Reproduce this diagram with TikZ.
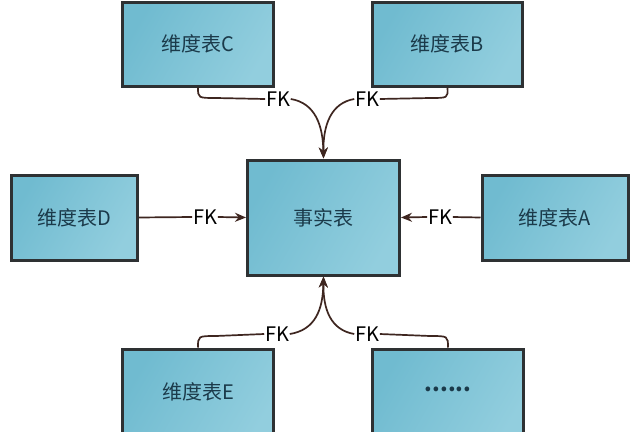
\documentclass[tikz,border=0pt]{standalone}
\usepackage{fontspec}
\setmainfont{Noto Sans CJK SC}
\usetikzlibrary{arrows.meta}
\definecolor{boxline}{HTML}{2E3133}
\definecolor{boxdark}{HTML}{70BBD0}
\definecolor{boxlight}{HTML}{92CEDE}
\definecolor{txt}{HTML}{1B3A4A}
\definecolor{arr}{HTML}{3E2620}
\tikzset{
  tbox/.style={draw=boxline, line width=3pt, left color=boxdark, right color=boxlight,
    shading angle=60, text=txt, font=\fontsize{20}{24}\selectfont, inner sep=0pt},
  fk/.style={text=black, font=\fontsize{20}{22}\selectfont, inner sep=0.6pt},
  conn/.style={draw=arr, line width=1.7pt},
  tip/.style={-{Stealth[length=11pt,width=9pt]}},
  lbl/.style={text=txt, font=\fontsize{20}{24}\selectfont, inner sep=0pt}
}
\begin{document}
\begin{tikzpicture}[x=1pt,y=-1pt]
\useasboundingbox (0,0) rectangle (637,431);
\fill[white] (0,0) rectangle (637,431);
% boxes
\node[tbox, minimum width=151pt, minimum height=84pt] (C) at (198,44) {维度表C};
\node[tbox, minimum width=150pt, minimum height=84pt] (B) at (447.5,44) {维度表B};
\node[tbox, minimum width=152pt, minimum height=115pt] (F) at (323.5,217.5) {事实表};
\node[tbox, minimum width=126pt, minimum height=85pt] (D) at (74,217.5) {维度表D};
\node[tbox, minimum width=146pt, minimum height=85pt] (A) at (555,217.5) {维度表A};
\node[tbox, minimum width=151pt, minimum height=100pt] (E) at (198,399) {};
\node[tbox, minimum width=151pt, minimum height=100pt] (X) at (448,399) {};
\node[lbl] (Et) at (198,392) {维度表E};
\node[lbl, anchor=base, font=\fontsize{22}{24}\selectfont\bfseries] (Xt) at (448,391) {......};
% FK labels
\node[fk] (fkC) at (278,99) {FK};
\node[fk] (fkB) at (367,99) {FK};
\node[fk] (fkD) at (205,217) {FK};
\node[fk] (fkA) at (440,217) {FK};
\node[fk] (fkE) at (277,334) {FK};
\node[fk] (fkX) at (367,334) {FK};
% top connectors
\draw[conn] (C.south) .. controls (198,98) .. (216,98) -- (fkC.west);
\draw[conn, tip] (fkC.east) .. controls (315,103) and (323,125) .. (F.north);
\draw[conn] (B.south) .. controls (448,98) .. (430,98) -- (fkB.east);
\draw[conn, tip] (fkB.west) .. controls (331,103) and (323,125) .. (F.north);
% middle connectors
\draw[conn] (D.east) -- (fkD.west);
\draw[conn, tip] (fkD.east) -- (F.west);
\draw[conn] (A.west) -- (fkA.east);
\draw[conn, tip] (fkA.west) -- (F.east);
% bottom connectors
\draw[conn] (E.north) .. controls (198,336) .. (216,336) -- (fkE.west);
\draw[conn, tip] (fkE.east) .. controls (315,330) and (323,310) .. (F.south);
\draw[conn] (X.north) .. controls (448,336) .. (430,336) -- (fkX.east);
\draw[conn, tip] (fkX.west) .. controls (331,330) and (323,310) .. (F.south);
\end{tikzpicture}
\end{document}
